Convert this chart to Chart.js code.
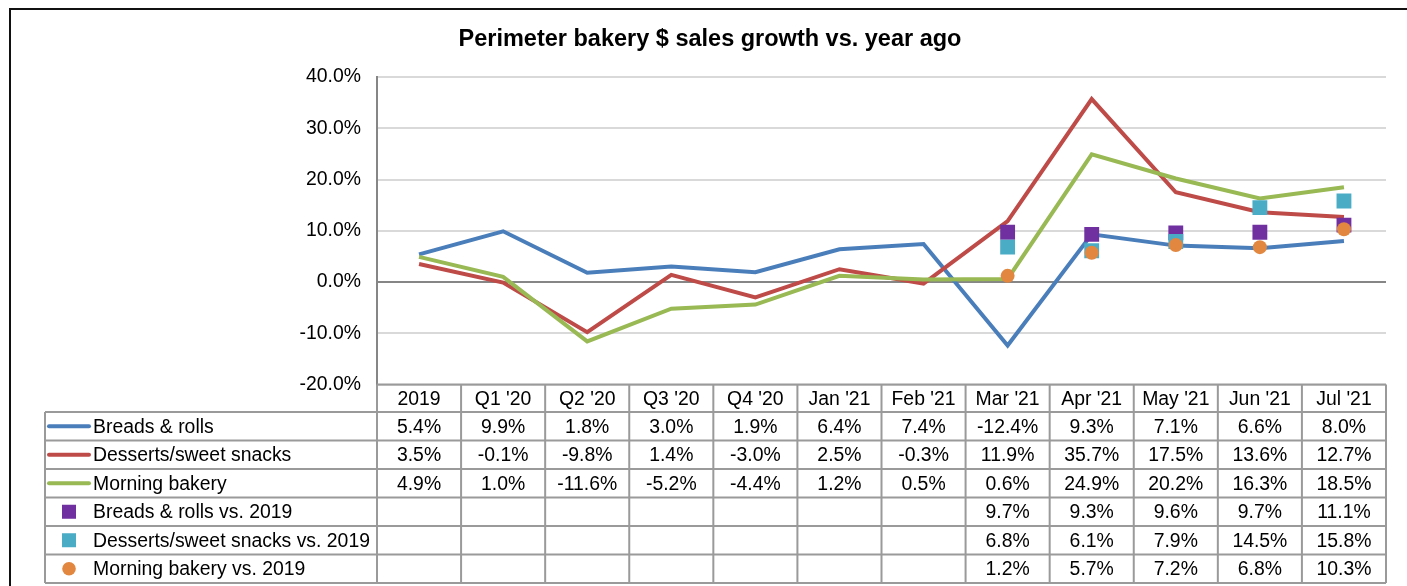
<!DOCTYPE html>
<html>
<head>
<meta charset="utf-8">
<title>Perimeter bakery $ sales growth vs. year ago</title>
<script src="https://cdn.jsdelivr.net/npm/chart.js@4/dist/chart.umd.min.js"></script>
<style>
  body { margin: 0; background: #fff; }
  #wrap { width: 1407px; height: 586px; }
</style>
</head>
<body>
<div id="wrap"><canvas id="chart" width="1407" height="586"></canvas></div>
<script>
// Data
const periods = ['2019', "Q1 '20", "Q2 '20", "Q3 '20", "Q4 '20", "Jan '21", "Feb '21", "Mar '21", "Apr '21", "May '21", "Jun '21", "Jul '21"];
const breadsRolls    = [5.4, 9.9, 1.8, 3.0, 1.9, 6.4, 7.4, -12.4, 9.3, 7.1, 6.6, 8.0];
const dessertsSnacks = [3.5, -0.1, -9.8, 1.4, -3.0, 2.5, -0.3, 11.9, 35.7, 17.5, 13.6, 12.7];
const morningBakery  = [4.9, 1.0, -11.6, -5.2, -4.4, 1.2, 0.5, 0.6, 24.9, 20.2, 16.3, 18.5];
const breadsVs2019   = [null, null, null, null, null, null, null, 9.7, 9.3, 9.6, 9.7, 11.1];
const dessertsVs2019 = [null, null, null, null, null, null, null, 6.8, 6.1, 7.9, 14.5, 15.8];
const morningVs2019  = [null, null, null, null, null, null, null, 1.2, 5.7, 7.2, 6.8, 10.3];
const yTicks = [-20, -10, 0, 10, 20, 30, 40];

const FONT = 'Liberation Sans, Arial, sans-serif';
const fmt = v => v.toFixed(1) + '%';

// Draws the outer frame and the data table (legend keys + values) under the plot
const tablePlugin = {
  id: 'dataTable',
  afterDraw(chart) {
    const ctx = chart.ctx;
    const area = chart.chartArea;
    const xs = chart.scales.x;
    const n = periods.length;
    const colW = (area.right - area.left) / n;
    const headTop = area.bottom;
    const headBottom = headTop + 27.5;
    const rowH = 28.5;
    const legendLeft = 45;
    const sets = chart.data.datasets;
    const tableBottom = headBottom + rowH * sets.length;

    ctx.save();

    // outer frame
    ctx.strokeStyle = '#111';
    ctx.lineWidth = 2;
    ctx.beginPath();
    ctx.moveTo(10, chart.height);
    ctx.lineTo(10, 9);
    ctx.lineTo(chart.width, 9);
    ctx.stroke();

    // grid of the table
    ctx.strokeStyle = '#9a9a9a';
    ctx.lineWidth = 2;
    ctx.beginPath();
    ctx.moveTo(area.left, headTop);
    ctx.lineTo(area.right, headTop);
    for (let r = 0; r <= sets.length; r++) {
      const y = headBottom + r * rowH;
      ctx.moveTo(legendLeft, y);
      ctx.lineTo(area.right, y);
    }
    ctx.moveTo(legendLeft, headBottom);
    ctx.lineTo(legendLeft, tableBottom);
    for (let i = 0; i <= n; i++) {
      const x = area.left + i * colW;
      ctx.moveTo(x, headTop);
      ctx.lineTo(x, tableBottom);
    }
    ctx.stroke();

    ctx.fillStyle = '#000';
    ctx.font = '19.4px ' + FONT;
    ctx.textBaseline = 'middle';

    // header row
    ctx.textAlign = 'center';
    periods.forEach((p, i) => {
      ctx.fillText(p, xs.getPixelForValue(i), (headTop + headBottom) / 2 + 1);
    });

    // one row per series
    sets.forEach((ds, r) => {
      const yc = headBottom + r * rowH + rowH / 2 + 1;
      // legend key
      if (ds.showLine === false) {
        ctx.fillStyle = ds.pointBackgroundColor;
        if (ds.pointStyle === 'circle') {
          ctx.beginPath();
          ctx.arc(69, yc - 1, 6.8, 0, Math.PI * 2);
          ctx.fill();
        } else {
          ctx.fillRect(62, yc - 8, 14, 14);
        }
      } else {
        ctx.strokeStyle = ds.borderColor;
        ctx.lineWidth = 4;
        ctx.lineCap = 'round';
        ctx.beginPath();
        ctx.moveTo(49, yc - 1);
        ctx.lineTo(89, yc - 1);
        ctx.stroke();
      }
      ctx.fillStyle = '#000';
      ctx.textAlign = 'left';
      ctx.fillText(ds.label, 93, yc);
      ctx.textAlign = 'center';
      ds.data.forEach((v, i) => {
        if (v === null) return;
        ctx.fillText(fmt(v), xs.getPixelForValue(i), yc);
      });
    });

    ctx.restore();
  }
};

function lineSet(label, data, color, order) {
  return {
    label, data, order,
    borderColor: color,
    backgroundColor: color,
    borderWidth: 4,
    pointRadius: 0,
    tension: 0,
    borderJoinStyle: 'miter'
  };
}

function markerSet(label, data, color, style, radius, order) {
  return {
    label, data, order,
    showLine: false,
    pointStyle: style,
    pointRadius: radius,
    pointBorderWidth: 0,
    pointBackgroundColor: color,
    pointBorderColor: color,
    borderColor: color,
    backgroundColor: color
  };
}

new Chart(document.getElementById('chart'), {
  type: 'line',
  data: {
    labels: periods,
    datasets: [
      lineSet('Breads & rolls', breadsRolls, '#4a7ebb', 6),
      lineSet('Desserts/sweet snacks', dessertsSnacks, '#be4b48', 5),
      lineSet('Morning bakery', morningBakery, '#98b954', 4),
      markerSet('Breads & rolls vs. 2019', breadsVs2019, '#7030a0', 'rect', 10.5, 3),
      markerSet('Desserts/sweet snacks vs. 2019', dessertsVs2019, '#4bacc6', 'rect', 10.5, 2),
      markerSet('Morning bakery vs. 2019', morningVs2019, '#e2873f', 'circle', 7, 1)
    ]
  },
  options: {
    responsive: false,
    animation: false,
    layout: { padding: { left: 34, right: 21, top: 0, bottom: 201.5 } },
    plugins: {
      legend: { display: false },
      tooltip: { enabled: false },
      title: {
        display: true,
        text: 'Perimeter bakery $ sales growth vs. year ago',
        color: '#000',
        font: { family: FONT, size: 23.5, weight: 'bold' },
        padding: { top: 25, bottom: 23.8 }
      }
    },
    scales: {
      x: {
        display: false,
        offset: true
      },
      y: {
        min: yTicks[0],
        max: yTicks[yTicks.length - 1],
        afterBuildTicks: scale => { scale.ticks = yTicks.map(v => ({ value: v })); },
        afterFit: scale => { scale.width = 343; },
        ticks: {
          color: '#000',
          font: { family: FONT, size: 19.4 },
          padding: 16,
          callback: v => fmt(v)
        },
        grid: {
          drawTicks: false,
          lineWidth: 2,
          color: c => c.tick && c.tick.value === 0 ? '#868686' : '#d9d9d9'
        },
        border: { display: true, color: '#868686', width: 2 }
      }
    }
  },
  plugins: [tablePlugin]
});
</script>
</body>
</html>
